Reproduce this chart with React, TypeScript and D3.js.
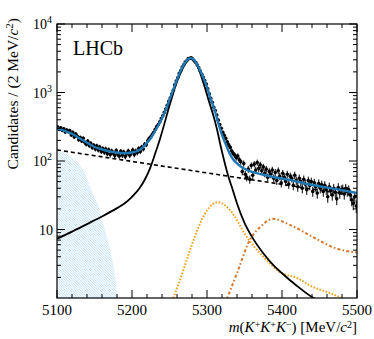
import React from 'react';
import * as d3 from 'd3';

// ---------- data ----------
const binCenters: number[] = d3.range(5101, 5500, 2);
const counts: number[] = [
  312, 290, 305, 280, 296, 265, 284, 270, 278, 240,
  262, 225, 248, 230, 205, 220, 196, 214, 188, 176,
  195, 168, 181, 158, 170, 150, 166, 145, 160, 138,
  152, 134, 150, 128, 146, 124, 140, 130, 120, 142,
  126, 118, 138, 122, 135, 116, 128, 140, 121, 132,
  145, 124, 140, 132, 152, 138, 160, 150, 176, 172,
  198, 214, 225, 244, 262, 290, 318, 340, 372, 415,
  458, 512, 575, 652, 742, 830, 950, 1080, 1290, 1470,
  1640, 1900, 2080, 2350, 2530, 2790, 2900, 3120, 3160, 3200,
  3080, 2880, 2740, 2510, 2300, 2060, 1850, 1660, 1500, 1330,
  1130, 960, 820, 720, 610, 545, 470, 395, 340, 300,
  262, 238, 214, 190, 172, 158, 140, 128, 122, 112,
  118, 104, 98, 70, 92, 64, 58, 76, 54, 86,
  62, 90, 74, 95, 78, 88, 72, 82, 66, 76,
  58, 70, 64, 74, 56, 68, 52, 72, 60, 48,
  66, 58, 50, 64, 46, 60, 56, 44, 62, 52,
  42, 56, 50, 40, 54, 46, 38, 52, 44, 50,
  36, 48, 42, 34, 47, 40, 45, 36, 44, 38,
  30, 42, 37, 32, 40, 35, 28, 41, 34, 38,
  39, 33, 40, 36, 38, 32, 27, 24, 30, 22,
];

const totalFit: [number, number][] = [
  [5100, 302], [5110, 275], [5120, 250], [5130, 215], [5140, 185], [5150, 160],
  [5160, 148], [5170, 138], [5180, 132], [5190, 130], [5200, 133], [5210, 145],
  [5215, 160], [5220, 185], [5225, 215], [5230, 265], [5235, 330], [5240, 420],
  [5245, 560], [5250, 780], [5255, 1100], [5260, 1550], [5265, 2100], [5270, 2650],
  [5275, 3080], [5278, 3180], [5281, 3100], [5285, 2750], [5290, 2200], [5295, 1650],
  [5300, 1200], [5305, 800], [5310, 560], [5315, 360], [5320, 240], [5325, 175],
  [5330, 130], [5335, 105], [5340, 92], [5345, 83], [5350, 77], [5357, 71],
  [5365, 67], [5375, 63], [5390, 58], [5410, 53], [5430, 47], [5455, 42],
  [5480, 37.5], [5500, 34],
];

const signal: [number, number][] = [
  [5100, 7.3], [5120, 9.3], [5140, 12], [5160, 15.5], [5180, 20.5], [5190, 24],
  [5200, 30], [5210, 40], [5218, 56], [5224, 78], [5230, 120], [5237, 205],
  [5251, 700], [5258, 1250], [5265, 1950],
  [5271, 2620], [5276, 3050], [5279, 3150], [5283, 2950], [5288, 2350], [5293, 1650],
  [5298, 1100], [5303, 720], [5308, 480], [5313, 300], [5318, 170], [5323, 100],
  [5328, 62], [5333, 42], [5340, 24], [5350, 12.5], [5360, 7.8], [5375, 4.5],
  [5390, 2.9], [5400, 2.3], [5420, 1.5], [5442, 1], [5450, 0.9],
];

const combinatorial: [number, number][] = [[5100, 145], [5300, 67], [5500, 31]];

const peakingA: [number, number][] = [
  [5255, 1], [5264, 1.83], [5273, 3.6], [5287, 9.8], [5300, 19], [5315, 25],
  [5331, 19], [5353, 7.8], [5375, 4.0], [5397, 2.4], [5420, 1.96], [5441, 1.45],
  [5464, 1.18], [5480, 1],
];

const peakingB: [number, number][] = [
  [5327, 1], [5340, 2.3], [5357, 7], [5371, 10.9], [5388, 14.3], [5411, 11.6],
  [5441, 7.8], [5468, 5.5], [5500, 4.6],
];

const partReco: [number, number][] = [
  [5100, 140], [5111, 130], [5124, 103], [5131, 86], [5137, 67], [5143, 45],
  [5150, 30], [5157, 19], [5165, 9], [5171, 5], [5177, 2.2], [5180, 1.2], [5181, 1],
];

const xTicks = [5100, 5200, 5300, 5400, 5500];
const yTicks = [10, 100, 1000, 10000];
const yTickLabels = ['10', '10', '10', '10'];
const yTickExp = ['', '2', '3', '4'];

// ---------- layout ----------
const W = 374, H = 339;
const L = 57, R = 357, T = 24, B = 298;

export default function App() {
  const xs = d3.scaleLinear().domain([5100, 5500]).range([L, R]);
  const ys = d3.scaleLog().domain([1, 10000]).range([B, T]);

  const line = d3.line<[number, number]>()
    .x(d => xs(d[0])).y(d => ys(d[1])).curve(d3.curveMonotoneX);
  const straight = d3.line<[number, number]>()
    .x(d => xs(d[0])).y(d => ys(d[1]));
  const area = d3.area<[number, number]>()
    .x(d => xs(d[0])).y0(ys(1)).y1(d => ys(d[1])).curve(d3.curveMonotoneX);

  const xMinor = d3.range(5100, 5501, 20);
  const yMinor: number[] = [];
  for (let e = 0; e < 4; e++) for (let m = 2; m <= 9; m++) yMinor.push(m * Math.pow(10, e));

  const font = '"Liberation Serif", "Times New Roman", serif';

  return (
    <svg width={W} height={H} style={{ position: 'absolute', left: 0, top: 0, background: '#fff' }}
      fontFamily={font}>
      <defs>
        <clipPath id="plot"><rect x={L} y={T} width={R - L} height={B - T} /></clipPath>
        <pattern id="hatch" patternUnits="userSpaceOnUse" width={2.5} height={2.5}>
          <path d="M-1,-1 L3.5,3.5 M-1,1.5 L1,3.5 M1.5,-1 L3.5,1" stroke="#a8d6f3" strokeWidth={0.8} />
        </pattern>
      </defs>

      <g clipPath="url(#plot)">
        <path d={area(partReco) || ''} fill="url(#hatch)" />
        <path d={straight(combinatorial) || ''} fill="none" stroke="#000" strokeWidth={1.6} strokeDasharray="4,3" />
        <path d={line(peakingA) || ''} fill="none" stroke="#f0a21e" strokeWidth={2} strokeDasharray="1.6,1.6" />
        <path d={line(peakingB) || ''} fill="none" stroke="#d8782a" strokeWidth={2} strokeDasharray="1.6,2.2,3,2.2" />
        <path d={line(signal) || ''} fill="none" stroke="#000" strokeWidth={1.8} />
        {binCenters.map((x, i) => {
          const n = counts[i];
          const e = Math.sqrt(n);
          return (
            <g key={i}>
              <line x1={xs(x)} x2={xs(x)} y1={ys(n + e)} y2={ys(Math.max(n - e, 1))} stroke="#000" strokeWidth={1} />
              <circle cx={xs(x)} cy={ys(n)} r={1.8} fill="#000" />
            </g>
          );
        })}
        <path d={line(totalFit) || ''} fill="none" stroke="#1f77b4" strokeWidth={2.4} />
      </g>

      {/* frame */}
      <rect x={L} y={T} width={R - L} height={B - T} fill="none" stroke="#000" strokeWidth={1.2} />

      {/* x ticks */}
      {xMinor.map(v => {
        const major = v % 100 === 0;
        const len = major ? 8 : 4;
        return (
          <g key={'x' + v}>
            <line x1={xs(v)} x2={xs(v)} y1={B} y2={B - len} stroke="#000" strokeWidth={1} />
            <line x1={xs(v)} x2={xs(v)} y1={T} y2={T + len} stroke="#000" strokeWidth={1} />
          </g>
        );
      })}
      {xTicks.map(v => (
        <text key={'xl' + v} x={xs(v)} y={315} fontSize={15} textAnchor="middle">{v}</text>
      ))}

      {/* y ticks */}
      {yMinor.map(v => (
        <g key={'ym' + v}>
          <line x1={L} x2={L + 4} y1={ys(v)} y2={ys(v)} stroke="#000" strokeWidth={1} />
          <line x1={R} x2={R - 4} y1={ys(v)} y2={ys(v)} stroke="#000" strokeWidth={1} />
        </g>
      ))}
      {yTicks.map(v => (
        <g key={'yM' + v}>
          <line x1={L} x2={L + 8} y1={ys(v)} y2={ys(v)} stroke="#000" strokeWidth={1} />
          <line x1={R} x2={R - 8} y1={ys(v)} y2={ys(v)} stroke="#000" strokeWidth={1} />
        </g>
      ))}
      {yTicks.map((v, i) => (
        <text key={'yl' + v} x={yTickExp[i] ? 52 : 53} y={ys(v) + 5} fontSize={14} textAnchor="end">
          {yTickLabels[i]}
          {yTickExp[i] ? <tspan fontSize={10} dy={-6}>{yTickExp[i]}</tspan> : null}
        </text>
      ))}

      {/* axis titles */}
      <text x={R} y={332} fontSize={15} textAnchor="end">
        <tspan fontStyle="italic">m</tspan>(<tspan fontStyle="italic">K</tspan>
        <tspan fontSize={10} dy={-4}>+</tspan>
        <tspan fontStyle="italic" dy={4}>K</tspan>
        <tspan fontSize={10} dy={-4}>+</tspan>
        <tspan fontStyle="italic" dy={4}>K</tspan>
        <tspan fontSize={10} dy={-4}>−</tspan>
        <tspan dy={4}>) [MeV/</tspan><tspan fontStyle="italic">c</tspan>
        <tspan fontSize={10} dy={-4}>2</tspan><tspan dy={4}>]</tspan>
      </text>
      <text transform="translate(18,18) rotate(-90)" fontSize={15.5} textAnchor="end">
        Candidates / (2 MeV/<tspan fontStyle="italic">c</tspan>
        <tspan fontSize={11} dy={-5}>2</tspan><tspan dy={5}>)</tspan>
      </text>

      <text x={73} y={55} fontSize={20}>LHCb</text>
    </svg>
  );
}
